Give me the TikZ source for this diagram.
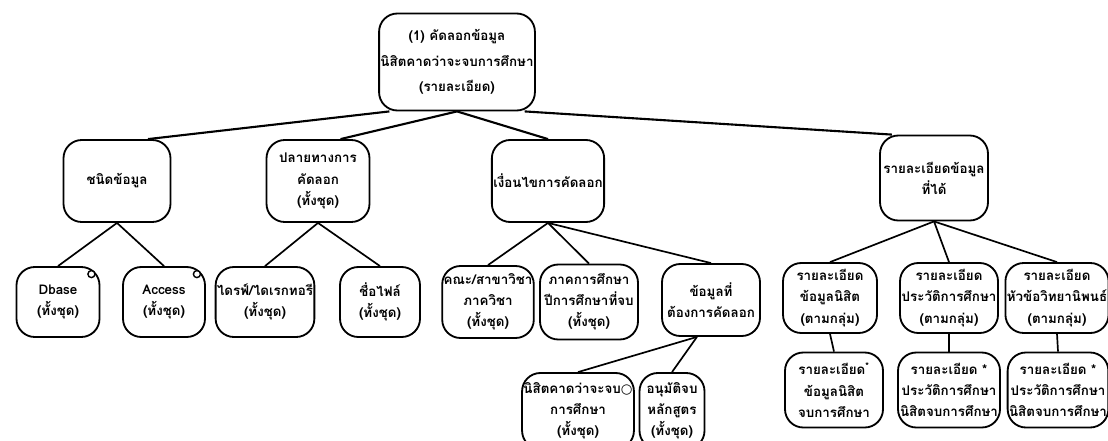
\documentclass[tikz,border=0pt]{standalone}
\usepackage{fontspec}
\newfontfamily\thaifont[Script=Thai]{Loma}
\newfontfamily\symfont{DejaVu Sans}
\usetikzlibrary{calc}
\tikzset{
  box/.style    ={draw, line width=1.3pt, rounded corners=13pt, fill=white, align=center,
                  inner sep=1pt, font=\thaifont\bfseries\fontsize{9.5}{15}\selectfont},
  sz/.style 2 args={minimum width=#1*0.025cm, minimum height=#2*0.025cm},
  selmark/.style={draw, circle, line width=1pt, minimum size=5pt, inner sep=0pt, fill=white},
  link/.style   ={line width=1.2pt},
  toplink/.style={line width=1.5pt},
}
\newcommand{\selsym}{{\symfont ○}}

\begin{document}
\begin{tikzpicture}[x=0.025cm, y=-0.025cm]
  \useasboundingbox (0,0) rectangle (1108,440);
  % root
  \node[box, sz={153}{97}, font=\thaifont\bfseries\fontsize{9.5}{18}\selectfont] (root) at (457,62)
    {(1) คัดลอกข้อมูล\\นิสิตคาดว่าจะจบการศึกษา\\(รายละเอียด)};
  % level 1
  \node[box, sz={107}{82}] (dtype)  at (117,181) {ชนิดข้อมูล};
  \node[box, sz={103}{82}] (dest)   at (318,181) {ปลายทางการ\\คัดลอก\\(ทั้งชุด)};
  \node[box, sz={107}{82}] (cond)   at (548,181) {เงื่อนไขการคัดลอก};
  \node[box, sz={108}{85}] (result) at (934,178) {รายละเอียดข้อมูล\\ที่ได้};
  % level 2
  \node[box, sz={83}{70}] (dbase)  at (58,302)  {Dbase\\(ทั้งชุด)};
  \node[box, sz={82}{70}] (access) at (164,302) {Access\\(ทั้งชุด)};
  \node[box, sz={80}{70}] (drive)  at (265,302) {ไดรฟ์/ไดเรกทอรี\\(ทั้งชุด)};
  \node[box, sz={80}{70}] (fname)  at (380,302) {ชื่อไฟล์\\(ทั้งชุด)};
  \node[box, sz={91}{72}] (faculty) at (488,302) {คณะ/สาขาวิชา\\ภาควิชา\\(ทั้งชุด)};
  \node[box, sz={98}{75}] (term)   at (589,302) {ภาคการศึกษา\\ปีการศึกษาที่จบ\\(ทั้งชุด)};
  \node[box, sz={98}{72}] (need)   at (711,300) {ข้อมูลที่\\ต้องการคัดลอก};
  \node[box, sz={94}{70}] (stu)    at (830,298) {รายละเอียด\\ข้อมูลนิสิต\\(ตามกลุ่ม)};
  \node[box, sz={98}{70}] (hist)   at (949,298) {รายละเอียด\\ประวัติการศึกษา\\(ตามกลุ่ม)};
  \node[box, sz={95}{70}] (thes)   at (1057,298) {รายละเอียด\\หัวข้อวิทยานิพนธ์\\(ตามกลุ่ม)};
  % level 3
  \node[box, sz={93}{76}] (grad)   at (578,411) {นิสิตคาดว่าจะจบ\selsym\\การศึกษา\\(ทั้งชุด)};
  \node[box, sz={65}{76}] (approve) at (672,411) {อนุมัติจบ\\หลักสูตร\\(ทั้งชุด)};
  \node[box, sz={98}{75}] (stuend)  at (834,390) {รายละเอียด\textsuperscript{*}\\ข้อมูลนิสิต\\จบการศึกษา};
  \node[box, sz={102}{75}] (histend) at (949,390) {\hfill รายละเอียด *\\ประวัติการศึกษา\\นิสิตจบการศึกษา};
  \node[box, sz={93}{75}] (thesend) at (1058,390) {\hfill รายละเอียด *\\ประวัติการศึกษา\\นิสิตจบการศึกษา};
  % selection marks
  \node[selmark] (dbasesel)  at ($(dbase.north east)+(-9,8)$) {};
  \node[selmark] (accesssel) at ($(access.north east)+(-9,8)$) {};

  \draw[toplink] ([xshift=8pt]root.south west) -- ([xshift=22pt]dtype.north);
  \draw[toplink] (root.south) -- ([xshift=16pt]dest.north);
  \draw[toplink] (root.south) -- (cond.north);
  \draw[toplink] ([xshift=-8pt]root.south east) -- ([xshift=-30pt]result.north);
  \foreach \kid in {dbase,access} \draw[link] (dtype.south) -- (\kid.north);
  \foreach \kid in {drive,fname} \draw[link] (dest.south) -- (\kid.north);
  \foreach \kid in {faculty,term,need} \draw[link] (cond.south) -- (\kid.north);
  \foreach \kid in {stu,hist,thes} \draw[link] (result.south) -- (\kid.north);
  \foreach \kid in {grad,approve} \draw[link] ([xshift=-10pt]need.south) -- (\kid.north);
  \draw[link] (stu.south) -- (stuend.north);
  \draw[link] (hist.south) -- (histend.north);
  \draw[link] (thes.south) -- (thesend.north);
\end{tikzpicture}
\end{document}
